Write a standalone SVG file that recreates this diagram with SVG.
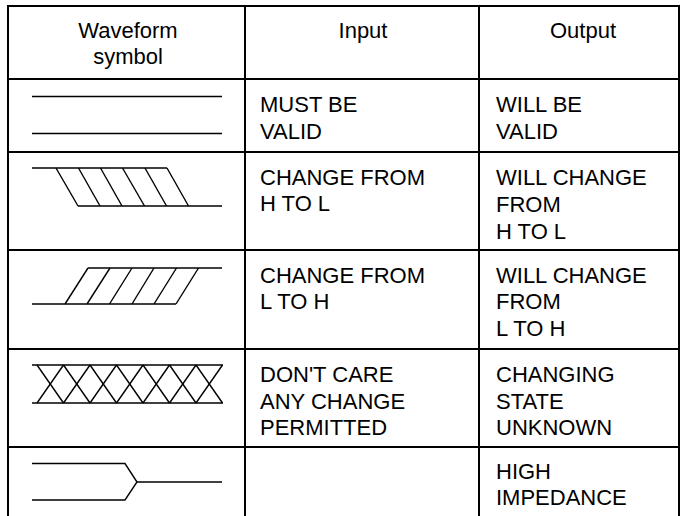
<svg xmlns="http://www.w3.org/2000/svg" width="682" height="516" viewBox="0 0 682 516">
<style>
  .grid { stroke: #000; stroke-width: 2; fill: none; }
  .wave { stroke: #000; stroke-width: 1.4; fill: none; stroke-linejoin: miter; }
  text { font-family: "Liberation Sans", Arial, sans-serif; font-size: 22px; fill: #000; }
  .c { text-anchor: middle; }
</style>
<rect x="0" y="0" width="682" height="516" fill="#fff"/>
<g id="grid" class="grid">
  <line x1="7" y1="6" x2="680" y2="6"/>
  <line x1="8" y1="79" x2="679" y2="79"/>
  <line x1="8" y1="152" x2="679" y2="152"/>
  <line x1="8" y1="250" x2="679" y2="250"/>
  <line x1="8" y1="349" x2="679" y2="349"/>
  <line x1="8" y1="447" x2="679" y2="447"/>
  <line x1="8" y1="6" x2="8" y2="516"/>
  <line x1="245" y1="6" x2="245" y2="516"/>
  <line x1="479" y1="6" x2="479" y2="516"/>
  <line x1="679" y1="6" x2="679" y2="516"/>
</g>
<g id="header">
  <text class="c" x="128" y="38">Waveform</text>
  <text class="c" x="128" y="64">symbol</text>
  <text class="c" x="363" y="38">Input</text>
  <text class="c" x="583" y="38">Output</text>
</g>
<g id="row-valid">
  <g class="wave">
    <line x1="32" y1="96.5" x2="222" y2="96.5"/>
    <line x1="32" y1="133.5" x2="222" y2="133.5"/>
  </g>
  <text x="260" y="112">MUST BE</text>
  <text x="260" y="139">VALID</text>
  <text x="496" y="112">WILL BE</text>
  <text x="496" y="139">VALID</text>
</g>
<g id="row-h-to-l">
  <g class="wave">
    <line x1="32" y1="168" x2="167" y2="168"/>
    <line x1="78" y1="206" x2="222" y2="206"/>
    <line x1="56" y1="168" x2="78" y2="206"/>
    <line x1="78.5" y1="168" x2="100" y2="206"/>
    <line x1="100.5" y1="168" x2="122" y2="206"/>
    <line x1="122.5" y1="168" x2="144.5" y2="206"/>
    <line x1="145" y1="168" x2="166.5" y2="206"/>
    <line x1="167" y1="168" x2="188.5" y2="206"/>
  </g>
  <text x="260" y="185">CHANGE FROM</text>
  <text x="260" y="211">H TO L</text>
  <text x="496" y="185">WILL CHANGE</text>
  <text x="496" y="212">FROM</text>
  <text x="496" y="239">H TO L</text>
</g>
<g id="row-l-to-h">
  <g class="wave">
    <line x1="32" y1="304" x2="176" y2="304"/>
    <line x1="88" y1="268" x2="222" y2="268"/>
    <line x1="65" y1="304" x2="88" y2="268"/>
    <line x1="87" y1="304" x2="110" y2="268"/>
    <line x1="109.5" y1="304" x2="132" y2="268"/>
    <line x1="132" y1="304" x2="154" y2="268"/>
    <line x1="154" y1="304" x2="176.5" y2="268"/>
    <line x1="176" y1="304" x2="198.5" y2="268"/>
  </g>
  <text x="260" y="283">CHANGE FROM</text>
  <text x="260" y="309">L TO H</text>
  <text x="496" y="283">WILL CHANGE</text>
  <text x="496" y="309">FROM</text>
  <text x="496" y="336">L TO H</text>
</g>
<g id="row-dont-care">
  <g class="wave">
    <line x1="32" y1="365" x2="223" y2="365"/>
    <line x1="32" y1="403" x2="223" y2="403"/>
    <path d="M37 365 L63.5 403 M63.5 365 L90 403 M90 365 L116.5 403 M116.5 365 L143 403 M143 365 L169.5 403 M169.5 365 L196 403 M196 365 L222.5 403"/>
    <path d="M37 403 L63.5 365 M63.5 403 L90 365 M90 403 L116.5 365 M116.5 403 L143 365 M143 403 L169.5 365 M169.5 403 L196 365 M196 403 L222.5 365"/>
  </g>
  <text x="260" y="382">DON'T CARE</text>
  <text x="260" y="409">ANY CHANGE</text>
  <text x="260" y="435">PERMITTED</text>
  <text x="496" y="382">CHANGING</text>
  <text x="496" y="409">STATE</text>
  <text x="496" y="435">UNKNOWN</text>
</g>
<g id="row-high-z">
  <g class="wave">
    <path d="M32 463.5 L125 463.5 L137 482 L125 500 L32 500"/>
    <line x1="137" y1="482" x2="222" y2="482"/>
  </g>
  <text x="496" y="479">HIGH</text>
  <text x="496" y="505">IMPEDANCE</text>
</g>
</svg>
